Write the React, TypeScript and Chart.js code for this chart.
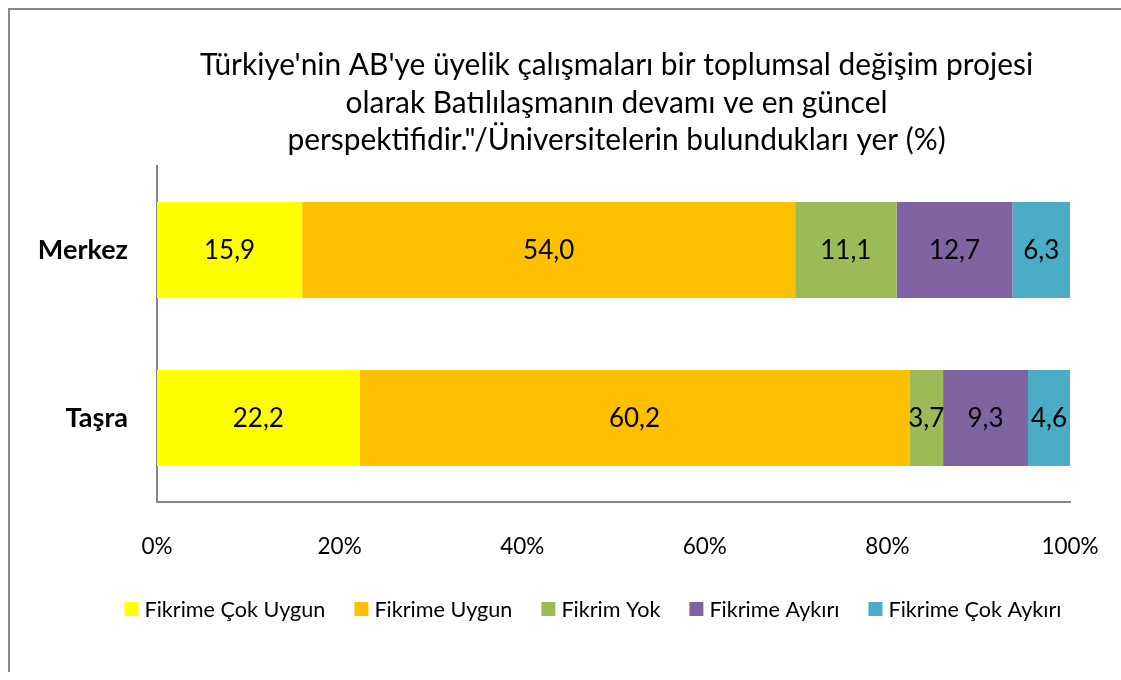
import React, { useEffect, useRef } from "react";
import { Chart, registerables } from "chart.js";

Chart.register(...registerables);

const categories = ["Merkez", "Taşra"];
const seriesLabels = [
  "Fikrime Çok Uygun",
  "Fikrime Uygun",
  "Fikrim Yok",
  "Fikrime Aykırı",
  "Fikrime Çok Aykırı",
];
const cokUygun = [15.9, 22.2];
const uygun = [54.0, 60.2];
const fikrimYok = [11.1, 3.7];
const aykiri = [12.7, 9.3];
const cokAykiri = [6.3, 4.6];
const seriesColors = ["#FFFF00", "#FFC000", "#9BBB59", "#8064A2", "#4BACC6"];
const titleLines = [
  "Türkiye'nin AB'ye üyelik çalışmaları bir toplumsal değişim projesi",
  "olarak Batılılaşmanın devamı ve en güncel",
  "perspektifidir.\"/Üniversitelerin bulundukları yer (%)",
];
const xTicks = [0, 20, 40, 60, 80, 100];

const FONT = "Lato, 'Open Sans', sans-serif";

const titlePlugin = {
  id: "customTitle",
  afterDraw(chart: any) {
    const { ctx, chartArea } = chart;
    const cx = (chartArea.left + chartArea.right) / 2 + 3;
    ctx.save();
    ctx.fillStyle = "#000";
    ctx.font = `29.9px ${FONT}`;
    ctx.textAlign = "center";
    ctx.textBaseline = "alphabetic";
    titleLines.forEach((line, i) => {
      ctx.fillText(line, cx, 65 + i * 37.5);
    });
    ctx.restore();
  },
};

const dataLabelPlugin = {
  id: "dataLabels",
  afterDatasetsDraw(chart: any) {
    const { ctx } = chart;
    ctx.save();
    ctx.fillStyle = "#000";
    ctx.font = `26px ${FONT}`;
    ctx.textAlign = "center";
    ctx.textBaseline = "middle";
    chart.data.datasets.forEach((ds: any, di: number) => {
      const meta = chart.getDatasetMeta(di);
      meta.data.forEach((el: any, i: number) => {
        const v = ds.data[i];
        const x = (el.x + el.base) / 2;
        ctx.fillText(v.toFixed(1).replace(".", ","), x, el.y + 1);
      });
    });
    ctx.restore();
  },
};

const legendPlugin = {
  id: "customLegend",
  afterDraw(chart: any) {
    const { ctx } = chart;
    const box = 14;
    const gapText = 6;
    const gapItem = 29;
    const cy = 599;
    ctx.save();
    ctx.font = `21.6px ${FONT}`;
    const items = chart.data.datasets.map((ds: any) => ({
      label: ds.label,
      color: ds.backgroundColor,
      w: ctx.measureText(ds.label).width,
    }));
    const total =
      items.reduce((s: number, it: any) => s + box + gapText + it.w, 0) +
      gapItem * (items.length - 1);
    let x = 583 - total / 2;
    ctx.textBaseline = "middle";
    ctx.textAlign = "left";
    items.forEach((it: any) => {
      ctx.fillStyle = it.color;
      ctx.fillRect(x, cy - box / 2, box, box);
      ctx.fillStyle = "#000";
      ctx.fillText(it.label, x + box + gapText, cy + 1);
      x += box + gapText + it.w + gapItem;
    });
    ctx.restore();
  },
};

export default function App() {
  const ref = useRef<HTMLCanvasElement | null>(null);
  useEffect(() => {
    if (!ref.current) return;
    const seriesData = [cokUygun, uygun, fikrimYok, aykiri, cokAykiri];
    const chart = new Chart(ref.current, {
      type: "bar",
      data: {
        labels: categories,
        datasets: seriesData.map((d, i) => ({
          label: seriesLabels[i],
          data: d,
          backgroundColor: seriesColors[i],
          borderWidth: 0,
          barPercentage: 1,
          categoryPercentage: 0.571,
        })),
      },
      options: {
        indexAxis: "y",
        responsive: true,
        maintainAspectRatio: false,
        animation: false,
        layout: { padding: { top: 156, right: 51, bottom: 110, left: 0 } },
        plugins: {
          legend: { display: false },
          title: { display: false },
          tooltip: { enabled: false },
        },
        scales: {
          x: {
            stacked: true,
            min: 0,
            max: 100,
            afterBuildTicks: (s: any) => {
              s.ticks = xTicks.map((v) => ({ value: v }));
            },
            afterFit: (s: any) => {
              s.height = 60;
              s.paddingLeft = 0;
              s.paddingRight = 0;
            },
            grid: { display: false, drawTicks: false },
            border: { display: true, color: "#868686", width: 2 },
            ticks: {
              padding: 31,
              color: "#000",
              font: { family: FONT, size: 22.5 },
              callback: (v: any) => v + "%",
            },
          },
          y: {
            stacked: true,
            afterFit: (s: any) => {
              s.width = 147;
            },
            grid: { display: false, drawTicks: false },
            border: { display: true, color: "#868686", width: 2 },
            ticks: {
              padding: 29,
              color: "#000",
              font: { family: FONT, size: 27, weight: "bold" },
            },
          },
        },
      },
      plugins: [titlePlugin, dataLabelPlugin, legendPlugin],
    });
    return () => chart.destroy();
  }, []);

  return (
    <>
      <style>{"html,body{overflow:hidden;}"}</style>
      <div
        style={{
          position: "absolute",
          left: 8,
          top: 8,
          width: 1113,
          height: 664,
          boxSizing: "border-box",
          borderTop: "2px solid #898989",
          borderLeft: "2px solid #898989",
          background: "#fff",
        }}
      >
        <canvas ref={ref} style={{ display: "block" }} />
      </div>
    </>
  );
}
